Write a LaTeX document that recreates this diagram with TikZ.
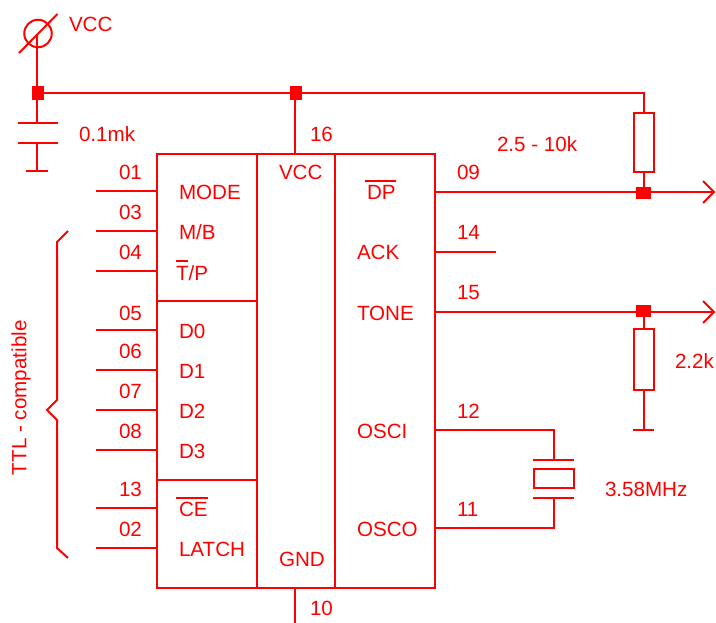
\documentclass[tikz,border=0pt]{standalone}
\usepackage{fontspec}
\setmainfont{Liberation Sans}
\definecolor{sch}{RGB}{255,0,0}
\tikzset{
  wire/.style={draw=sch,line width=2pt,line cap=butt},
  block/.style={draw=sch,line width=2pt,rectangle,inner sep=0pt,outer sep=0pt,minimum width=#1},
  junction v/.style={fill=sch,rectangle,inner sep=0pt,minimum width=12pt,minimum height=14pt},
  junction h/.style={fill=sch,rectangle,inner sep=0pt,minimum width=15pt,minimum height=12pt},
  resistor/.style={draw=sch,line width=2pt,rectangle,inner sep=0pt,minimum width=20pt,minimum height=#1},
  lbl/.style={text=sch,font=\fontsize{20.6}{24}\selectfont,anchor=base west,inner sep=0pt,outer sep=0pt},
  openhead/.style={draw=sch,line width=2pt,line join=miter},
}
\begin{document}
\begin{tikzpicture}[x=1pt,y=-1pt]
\useasboundingbox (0,0) rectangle (716,623);
% IC blocks
\node[block=100pt,minimum height=147.5pt] (b1) at (207,227.5) {};
\node[block=100pt,minimum height=178.5pt] (b2) at (207,390.5) {};
\node[block=100pt,minimum height=108pt] (b3) at (207,534) {};
\node[block=78pt,minimum height=434pt] (mid) at (296,371) {};
\node[block=100pt,minimum height=434pt] (rgt) at (385,371) {};
% Junctions and passive parts
\node[junction v] (j1) at (38,93.5) {};
\node[junction v] (j2) at (296,93.5) {};
\node[junction h] (j3) at (643.5,193) {};
\node[junction h] (j4) at (643.5,311) {};
\node[resistor=59pt] (r1) at (643.5,142.5) {};
\node[resistor=61pt] (r2) at (643.5,359.5) {};
\node[draw=sch,line width=2pt,rectangle,inner sep=0pt,minimum width=40pt,minimum height=18.5pt] (xt) at (553.5,478.5) {};
% VCC symbol
\node[draw=sch,line width=2pt,circle,inner sep=0pt,minimum size=27.5pt] (vs) at (38,33.5) {};
\coordinate (vt) at (37,35);
\coordinate (sa) at (19,53);
\coordinate (sb) at (57.5,14);
\draw[wire] (sa) -- (sb);
\draw[wire] (vt) -- (37,93);
% Supply rail
\draw[wire] (j1) -- (j2);
\draw[wire] (j2) -| (r1.north);
\draw[wire] (295,93.5) -- (295,154);
\draw[wire] (r1.south) -- (j3);
% Capacitor
\coordinate (c1) at (37,123.5);
\coordinate (c2) at (37,143.5);
\coordinate (cg) at (37,171.5);
\draw[wire] (37,93) -- (c1);
\draw[wire] (18,123.5) -- (58,123.5);
\draw[wire] (18,143.5) -- (58,143.5);
\draw[wire] (c2) -- (cg);
\draw[wire] (26,171.5) -- (48,171.5);
% Left pins
\foreach \y/\n in {191.5/a,231.5/b,271.5/c,330/d,370/e,410/f,450/g,508/h,548/i}{
  \coordinate (p\n) at (96,\y);
  \draw[wire] (p\n) -- (157,\y);
}
% Pin 10
\coordinate (gndend) at (295,623);
\draw[wire] (295,588) -- (gndend);
% Right pins
\coordinate (o1) at (714,192);
\coordinate (o2) at (714,312);
\coordinate (ack) at (496,252);
\draw[wire] (435,192) -- (o1);
\draw[wire] (435,252) -- (ack);
\draw[wire] (435,312) -- (o2);
\draw[openhead] (703,181) -- (o1) -- (703,203);
\draw[openhead] (703,301) -- (o2) -- (703,323);
% Pull-down
\coordinate (g2) at (643.5,430);
\draw[wire] (j4) -- (r2.north);
\draw[wire] (r2.south) -- (g2);
\draw[wire] (633,430) -- (654,430);
% Crystal
\coordinate (xa) at (553.5,459.5);
\coordinate (xb) at (553.5,497.5);
\draw[wire] (435,430) -- (553.5,430) -- (xa);
\draw[wire] (533,459.5) -- (574,459.5);
\draw[wire] (533,497.5) -- (574,497.5);
\draw[wire] (xb) -- (553.5,528) -- (435,528);
% Brace
\coordinate (ba) at (68,231);
\coordinate (bb) at (68,558);
\draw[wire] (ba) -- (57,242) -- (57,400) -- (47,410) -- (57,420) -- (57,548) -- (bb);
% Labels
\node[lbl] (l1) at (69,32) {VCC};
\node[lbl] (l2) at (79,142) {0.1mk};
\node[lbl] (l3) at (310,142) {16};
\node[lbl] (l4) at (279,180) {VCC};
\node[lbl] (l5) at (119,180) {01};
\node[lbl] (l6) at (119,220) {03};
\node[lbl] (l7) at (119,260) {04};
\node[lbl] (l8) at (179,200) {MODE};
\node[lbl] (l9) at (179,240) {M/B};
\node[lbl] (l10) at (176,280) {T/P};
\node[lbl] (l11) at (119,320) {05};
\node[lbl] (l12) at (119,358) {06};
\node[lbl] (l13) at (119,398) {07};
\node[lbl] (l14) at (119,438) {08};
\node[lbl] (l15) at (179,338) {D0};
\node[lbl] (l16) at (179,378) {D1};
\node[lbl] (l17) at (179,418) {D2};
\node[lbl] (l18) at (179,458) {D3};
\node[lbl] (l19) at (119,496) {13};
\node[lbl] (l20) at (119,536) {02};
\node[lbl] (l21) at (179,516) {CE};
\node[lbl] (l22) at (179,556) {LATCH};
\node[lbl] (l23) at (279,566) {GND};
\node[lbl] (l24) at (310,615) {10};
\node[lbl,rotate=90] (l25) at (26.5,475) {TTL - compatible};
\node[lbl] (l26) at (457,180) {09};
\node[lbl] (l27) at (457,240) {14};
\node[lbl] (l28) at (457,300) {15};
\node[lbl] (l29) at (497,152) {2.5 - 10k};
\node[lbl] (l30) at (367,200) {DP};
\node[lbl] (l31) at (357,260) {ACK};
\node[lbl] (l32) at (357,320) {TONE};
\node[lbl] (l33) at (357,438) {OSCI};
\node[lbl] (l34) at (357,536) {OSCO};
\node[lbl] (l35) at (457,418) {12};
\node[lbl] (l36) at (457,516) {11};
\node[lbl] (l37) at (605,496) {3.58MHz};
\node[lbl] (l38) at (675,368) {2.2k};
% Overbars
\draw[wire] (176,261.5) -- (188,261.5);
\draw[wire] (176,497.5) -- (208,497.5);
\draw[wire] (365,181.5) -- (396,181.5);
\end{tikzpicture}
\end{document}
